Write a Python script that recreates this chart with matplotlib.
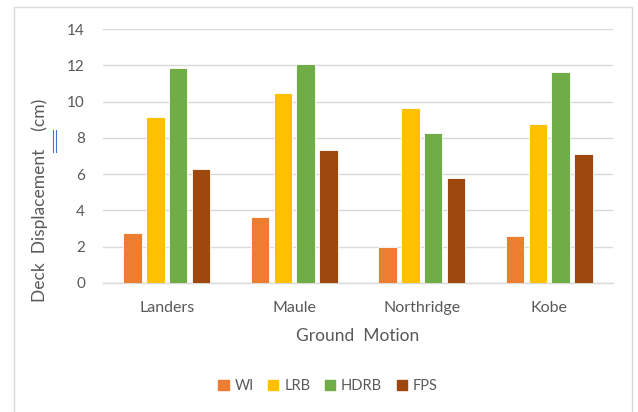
import matplotlib.pyplot as plt
import numpy as np
from matplotlib.patches import Rectangle
from matplotlib.lines import Line2D

# ground motions and peak deck displacement (cm) per bearing type
motions = ["Landers", "Maule", "Northridge", "Kobe"]
wi = [2.74, 3.62, 2.00, 2.59]
lrb = [9.17, 10.46, 9.66, 8.77]
hdrb = [11.83, 12.07, 8.29, 11.61]
fps = [6.27, 7.33, 5.79, 7.09]
y_ticks = [0, 2, 4, 6, 8, 10, 12, 14]

plt.rcParams["font.family"] = ["Lato", "DejaVu Sans"]
text_color = "#595959"

fig = plt.figure(figsize=(6.38, 4.12), dpi=100)
axis = fig.add_axes([103 / 638, 1 - 283 / 412, 510 / 638, 254 / 412])

series = {"WI": wi, "LRB": lrb, "HDRB": hdrb, "FPS": fps}
colors = ["#ED7D31", "#FFC000", "#70AD47", "#9E480E"]
x = np.arange(len(motions))
width = 0.145
step = 0.18
for i, (label, data) in enumerate(series.items()):
    axis.bar(x + (i - 1.5) * step, data, width=width, label=label,
             color=colors[i], edgecolor="white", linewidth=0.6, zorder=3)

axis.set_xlim(-0.5, len(motions) - 0.5)
axis.set_ylim(0, 14)
axis.set_yticks(y_ticks)
axis.set_xticks(x, labels=motions)
axis.grid(axis="y", color="#D9D9D9", linewidth=1, zorder=0)
for side in ["top", "right", "left"]:
    axis.spines[side].set_visible(False)
axis.spines["bottom"].set_color("#D9D9D9")
axis.spines["bottom"].set_linewidth(1)
axis.tick_params(axis="both", length=0, colors=text_color)
axis.tick_params(axis="y", pad=13, labelsize=11)
axis.tick_params(axis="x", pad=13, labelsize=11.5)

axis.set_xlabel("Ground  Motion", fontsize=12.5, color=text_color, labelpad=9)
axis.set_ylabel("Deck  Displacement    (cm)", fontsize=12.5, color=text_color)
axis.yaxis.set_label_coords(-0.108, 0.327)

handles = [Rectangle((0, 0), 1, 1, color=c) for c in colors]
fig.legend(handles, list(series.keys()), loc="center", ncol=4,
           bbox_to_anchor=(328 / 638, 1 - 386 / 412), frameon=False,
           fontsize=10.5, labelcolor=text_color, handlelength=0.7,
           handleheight=0.7, handletextpad=0.4, columnspacing=1.0)

# chart frame
fig.patches.append(Rectangle((14 / 638, -0.01), 618 / 638, 1 - 7 / 412 + 0.01,
                             transform=fig.transFigure, fill=False,
                             edgecolor="#D9D9D9", linewidth=1))
# text cursor marks beside the axis title
for xp in (53.5, 56.0):
    fig.lines.append(Line2D([xp / 638, xp / 638], [1 - 152 / 412, 1 - 130 / 412],
                            transform=fig.transFigure, color="#3C78D8",
                            linewidth=0.8))

fig.savefig("out.png", dpi=100)
